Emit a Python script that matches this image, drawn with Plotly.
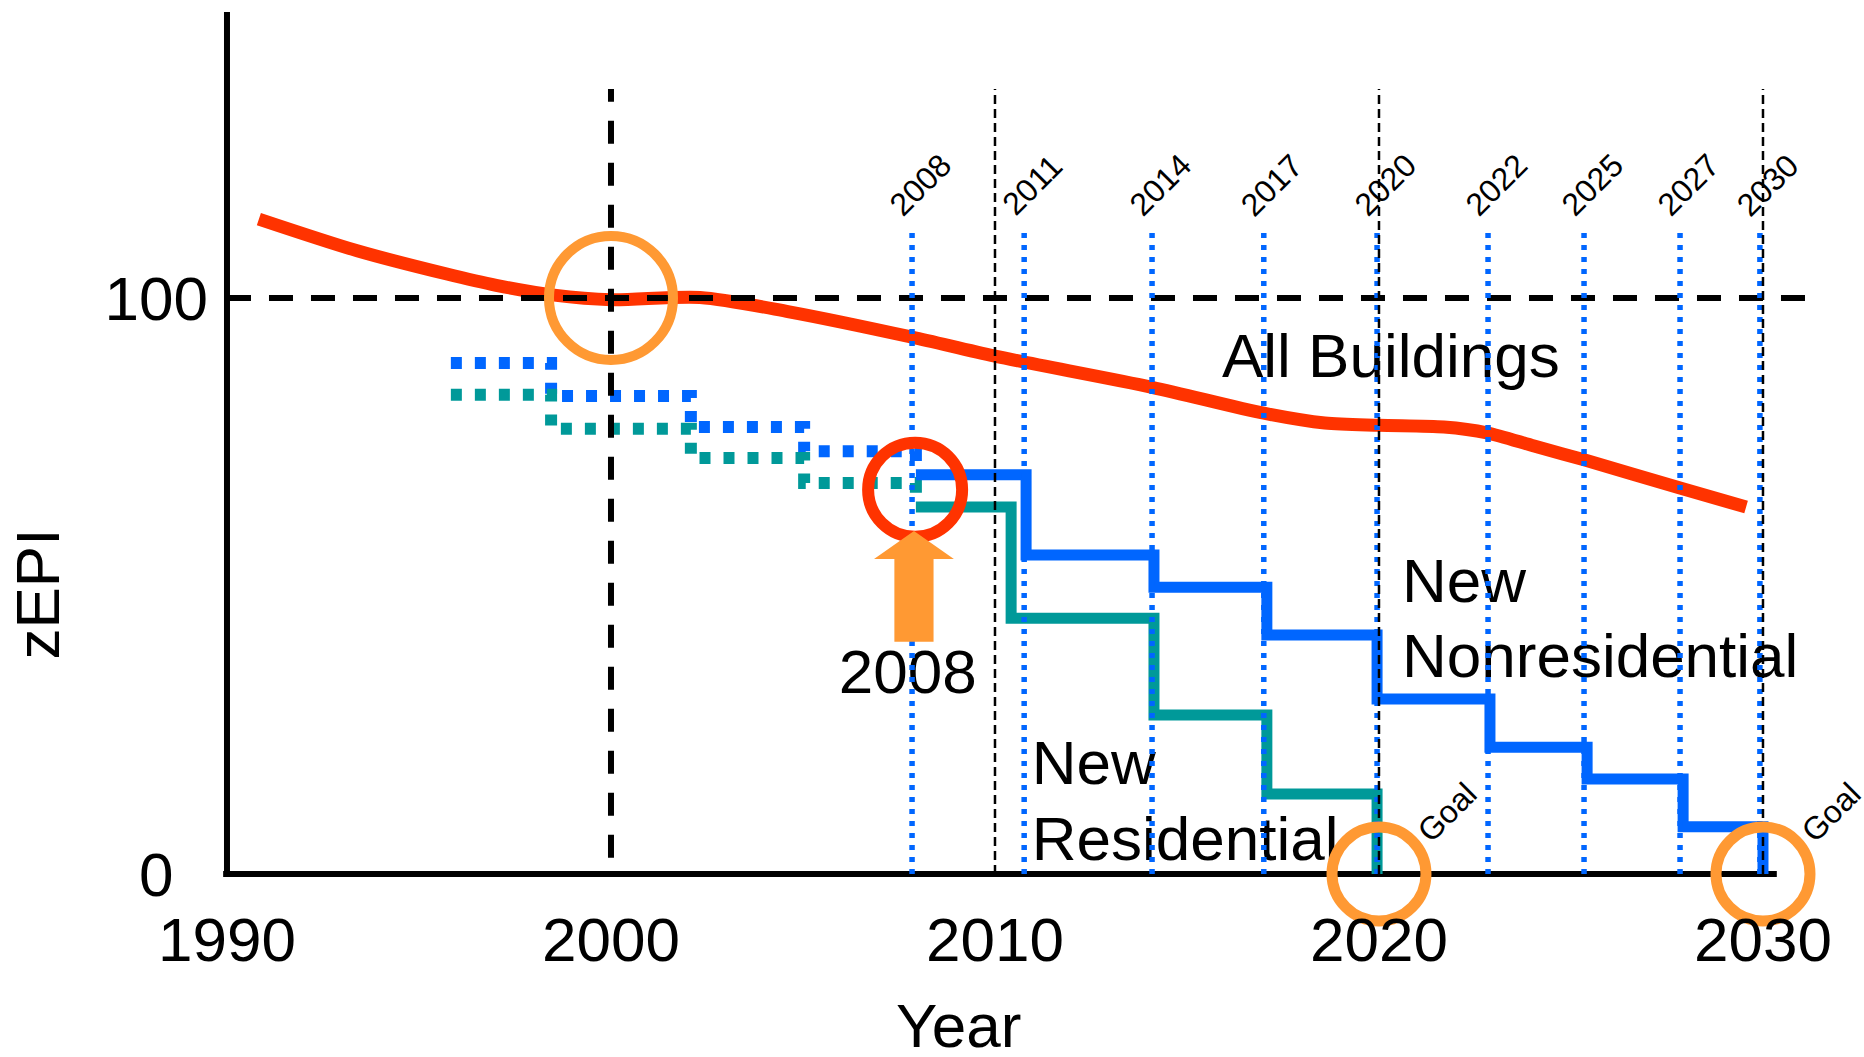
import plotly.graph_objects as go

# ---------------- data ----------------
x_tick_vals = [1990, 2000, 2010, 2020, 2030]
x_tick_text = ["1990", "2000", "2010", "2020", "2030"]
y_tick_vals = [0, 100]
y_tick_text = ["0\u00a0\u00a0", "100"]

# All Buildings curve
all_years = [1990.83, 1993.39, 1995.70, 1997.01, 1998.52, 2000.0, 2002.32, 2004.64,
             2007.84, 2010.0, 2014.09, 2017.0, 2018.59, 2020.0, 2021.69, 2022.81,
             2024.04, 2025.34, 2027.84, 2029.56]
all_zepi = [113.7, 108.2, 104.2, 102.2, 100.5, 99.7, 100.1, 97.6,
            93.2, 89.9, 84.5, 80.0, 78.3, 77.9, 77.6, 76.6,
            74.3, 71.9, 67.0, 63.7]

# historical code steps (dotted)
hist_years = [1995.83, 1998.44, 2002.08, 2005.03, 2007.94]
hist_nonres_zepi = [88.7, 83.0, 77.6, 73.4, 71.5]
hist_res_zepi = [83.2, 77.3, 72.2, 67.9, 66.1]

# future code steps (solid)
nonres_years = [2007.94, 2010.81, 2014.14, 2017.08, 2019.95, 2022.89, 2025.42, 2027.92, 2030.0]
nonres_zepi = [69.3, 55.4, 49.8, 41.5, 30.4, 22.0, 16.5, 8.2, 0]
res_years = [2007.94, 2010.42, 2014.14, 2017.08, 2019.95]
res_zepi = [63.7, 44.4, 27.6, 13.9, 0]

# code cycle markers
cycle_labels = ["2008", "2011", "2014", "2017", "2020", "2022", "2025", "2027", "2030"]
cycle_years = [2007.84, 2010.76, 2014.09, 2017.0, 2019.95, 2022.84, 2025.34, 2027.84, 2029.92]
cycle_top = 112.0

decade_years = [2010, 2020, 2030]
decade_top = 136.3
base_year = 2000
base_year_span = [2.8, 136.3]
base_level = 100
base_level_end = 2031.12

goal_years = [2020, 2030]
goal_level = 0
start_year = 2007.92
start_level = 66.7

arrow_year = 2007.89
arrow_tip, arrow_head_base, arrow_tail = 59.55, 54.7, 40.3

axis_x_end = 2030.36

# ---------------- styling ----------------
RED = "#FF3300"
ORANGE = "#FF9933"
BLUE = "#0066FF"
TEAL = "#009999"
FONT = "Liberation Sans, Arial, sans-serif"
FS = 62

fig = go.Figure()

# All buildings curve
fig.add_trace(go.Scatter(x=all_years, y=all_zepi, mode="lines",
                         line=dict(color=RED, width=13, shape="spline", smoothing=0.8)))

# 100 baseline dashed
fig.add_trace(go.Scatter(x=[1990, base_level_end], y=[base_level, base_level], mode="lines",
                         line=dict(color="black", width=6, dash="24px,18px")))

# text labels (drawn under the dotted lines)
def label(x, y, txt, pos="middle right"):
    fig.add_trace(go.Scatter(x=[x], y=[y], mode="text", text=[txt], textposition=pos,
                             textfont=dict(family=FONT, size=FS, color="black"),
                             cliponaxis=False))

label(2015.91, 88.98, "All Buildings")
label(2020.6, 49.9, "New")
label(2020.6, 36.9, "Nonresidential")
label(2010.96, 18.3, "New")
label(2010.96, 5.12, "Residential")
label(2007.73, 34.1, "2008", "middle center")

# historical dotted steps
fig.add_trace(go.Scatter(x=hist_years, y=hist_nonres_zepi, mode="lines",
                         line=dict(color=BLUE, width=12, shape="hv", dash="11px,13px")))
fig.add_trace(go.Scatter(x=hist_years, y=hist_res_zepi, mode="lines",
                         line=dict(color=TEAL, width=12, shape="hv", dash="11px,13px")))

# future solid steps
fig.add_trace(go.Scatter(x=res_years, y=res_zepi, mode="lines",
                         line=dict(color=TEAL, width=11, shape="hv")))
fig.add_trace(go.Scatter(x=nonres_years, y=nonres_zepi, mode="lines",
                         line=dict(color=BLUE, width=11, shape="hv")))

# code cycle dotted verticals
vx, vy = [], []
for yr in cycle_years:
    vx += [yr, yr, None]
    vy += [0, cycle_top, None]
fig.add_trace(go.Scatter(x=vx, y=vy, mode="lines",
                         line=dict(color=BLUE, width=5.5, dash="5px,7px")))

# decade thin dashed verticals
dx, dy = [], []
for yr in decade_years:
    dx += [yr, yr, None]
    dy += [0, decade_top, None]
fig.add_trace(go.Scatter(x=dx, y=dy, mode="lines",
                         line=dict(color="black", width=2.5, dash="9px,5px")))

# base year thick dashed vertical
fig.add_trace(go.Scatter(x=[base_year, base_year], y=base_year_span, mode="lines",
                         line=dict(color="black", width=6, dash="23px,19px")))

# circles
fig.add_trace(go.Scatter(x=[base_year], y=[base_level], mode="markers", cliponaxis=False,
                         marker=dict(symbol="circle-open", size=124, color=ORANGE,
                                     line=dict(width=10, color=ORANGE))))
fig.add_trace(go.Scatter(x=goal_years, y=[goal_level] * len(goal_years), mode="markers",
                         cliponaxis=False,
                         marker=dict(symbol="circle-open", size=94, color=ORANGE,
                                     line=dict(width=11, color=ORANGE))))
fig.add_trace(go.Scatter(x=[start_year], y=[start_level], mode="markers", cliponaxis=False,
                         marker=dict(symbol="circle-open", size=94, color=RED,
                                     line=dict(width=12, color=RED))))

# arrow
hw, sw = 1.04, 0.51
ax_ = [arrow_year, arrow_year + hw, arrow_year + sw, arrow_year + sw,
       arrow_year - sw, arrow_year - sw, arrow_year - hw, arrow_year]
ay_ = [arrow_tip, arrow_head_base, arrow_head_base, arrow_tail,
       arrow_tail, arrow_head_base, arrow_head_base, arrow_tip]
fig.add_trace(go.Scatter(x=ax_, y=ay_, mode="lines", fill="toself", fillcolor=ORANGE,
                         line=dict(width=0, color=ORANGE)))

# axis lines
fig.add_shape(type="line", x0=1989.9, x1=axis_x_end, y0=0, y1=0,
              line=dict(color="black", width=6), layer="below")
fig.add_shape(type="line", x0=1990, x1=1990, y0=-0.5, y1=149.65,
              line=dict(color="black", width=6), layer="below")

# rotated cycle labels
for lab, yr in zip(cycle_labels, cycle_years):
    fig.add_annotation(x=yr + 0.21, y=119.6, text=lab, showarrow=False, textangle=-45,
                       xanchor="center", yanchor="middle",
                       font=dict(family=FONT, size=32, color="black"))
for yr in goal_years:
    fig.add_annotation(x=yr + 1.78, y=10.8, text="Goal", showarrow=False, textangle=-45,
                       xanchor="center", yanchor="middle",
                       font=dict(family=FONT, size=32, color="black"))

# axis titles
fig.add_annotation(x=2009.06, y=-0.165, xref="x", yref="paper", text="Year", showarrow=False,
                   xanchor="center", yanchor="middle",
                   font=dict(family=FONT, size=FS, color="black"))
fig.add_annotation(x=-0.114, y=0.331, xref="paper", yref="paper", text="zEPI", showarrow=False,
                   textangle=-90, xanchor="center", yanchor="middle",
                   font=dict(family=FONT, size=FS, color="black"))

fig.update_layout(
    width=1864, height=1057,
    margin=dict(l=223, r=14, t=12, b=175),
    plot_bgcolor="white", paper_bgcolor="white",
    showlegend=False,
    xaxis=dict(range=[1989.896, 2032.266], showgrid=False, zeroline=False, showline=False,
               tickvals=x_tick_vals, ticktext=x_tick_text, ticks="",
               tickfont=dict(family=FONT, size=FS, color="black"), ticklabelstandoff=16),
    yaxis=dict(range=[-1.389, 149.65], showgrid=False, zeroline=False, showline=False,
               tickvals=y_tick_vals, ticktext=y_tick_text, ticks="",
               tickfont=dict(family=FONT, size=FS, color="black"), ticklabelstandoff=14),
)

fig.write_html("out.html", config={"displayModeBar": False},
               post_script="document.body.style.margin='0px';document.body.style.overflow='hidden';")
